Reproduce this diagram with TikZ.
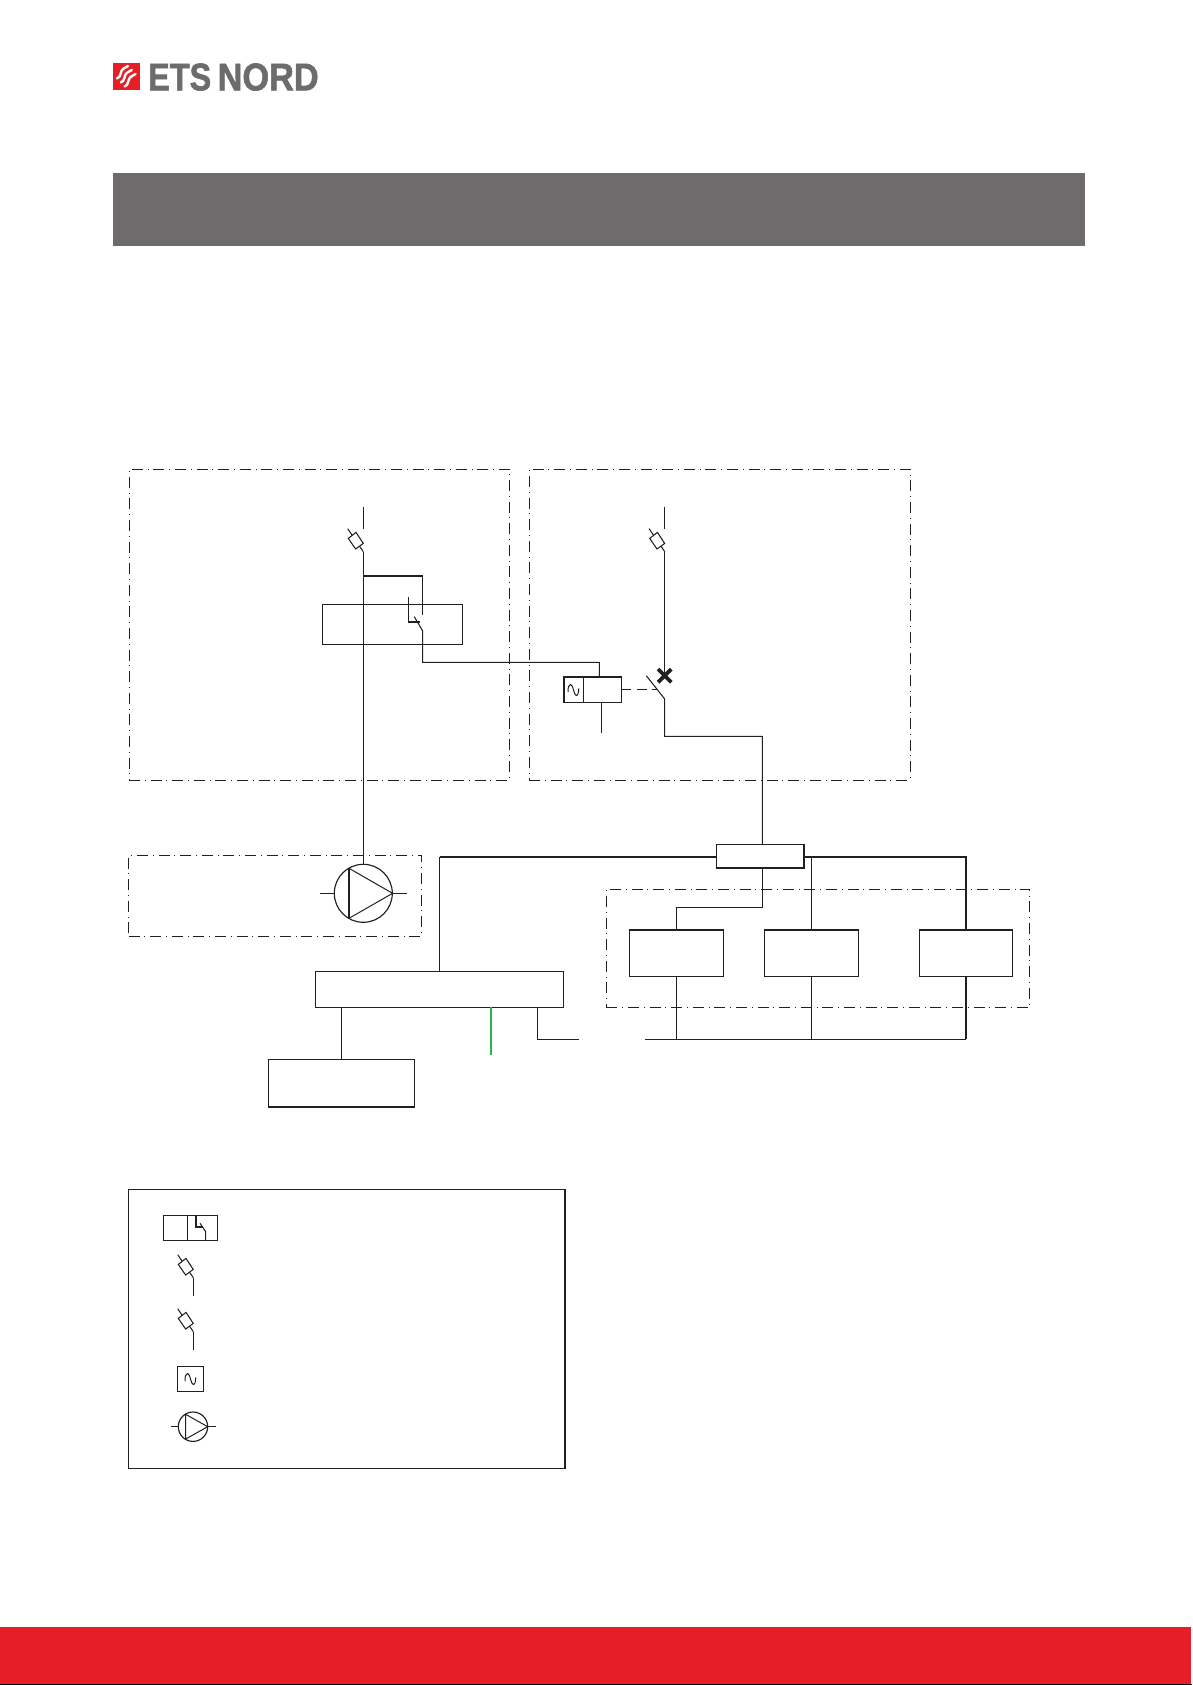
\documentclass[tikz,border=0pt]{standalone}
\usepackage{fontspec}
\setmainfont{Liberation Sans}
\newfontfamily\logofont[FakeBold=1.6]{Liberation Sans Bold}
\definecolor{etsred}{HTML}{E61E26}
\definecolor{etsgray}{HTML}{6D6B6C}
\definecolor{linek}{HTML}{231F20}
\definecolor{wgreen}{HTML}{2BB24C}
\tikzset{
  wire/.style={draw=linek,line width=1.05pt},
  bus/.style={draw=linek,line width=1.9pt},
  boxn/.style={draw=linek,line width=1.15pt,inner sep=0pt,outer sep=0pt},
  zone/.style={draw=linek,line width=1pt,inner sep=0pt,outer sep=0pt,dash pattern=on 11pt off 4.8pt on 1pt off 4.8pt},
  fusesym/.pic={
    \draw[wire] (-15.6,-23) -- (0,0);
    \draw[wire,fill=white] (-15,-13.3) -- (-7.3,-19.3) -- (0,-8.3) -- (-7.7,-2.7) -- cycle;
  },
  sinesym/.pic={
    \draw[draw=linek,line width=1pt] (-5.3,2) .. controls (-5.6,-3) and (-4,-5.5) .. (-2.7,-5.5)
      .. controls (0,-5.5) and (0.5,5.5) .. (3,5.5) .. controls (4.6,5.5) and (5.5,2) .. (5.5,-1.7);
  },
  pumpsym/.pic={
    \draw[draw=linek,line width=1pt,line join=round] (-14.3,-25) -- (-14.3,25) -- (29.3,0) -- cycle;
    \draw[draw=linek,line width=1.6pt] (-14.3,-25) -- (-14.3,25);
  },
  logowave/.pic={
    \draw[white,line width=2.4pt,line cap=round] (0,0) .. controls (4.5,-1.5) and (3,-7.5) .. (6,-9.5)
      .. controls (7.5,-10.5) and (9,-11.5) .. (11,-12.5);
  }
}
\begin{document}
\begin{tikzpicture}[x=1pt,y=-1pt]
\useasboundingbox (0,0) rectangle (1192,1685);
% page furniture
\fill[etsgray] (113,173) rectangle (1084.7,246);
\fill[etsred] (0,1627) rectangle (1190.5,1684);
\fill[black] (0,1684) rectangle (1192,1685);
% logo
\fill[etsred] (113,63) rectangle (140.3,90);
\pic at (117,78.5) {logowave};
\pic at (120.8,82.5) {logowave};
\pic at (124.6,86.5) {logowave};
\node[anchor=base west,inner sep=0pt,text=etsgray,font=\logofont\fontsize{37.7pt}{38pt}\selectfont] (logoa) at (148,90.3) {\scalebox{0.86}[1.02]{ETS}};
\node[anchor=base west,inner sep=0pt,text=etsgray,font=\logofont\fontsize{37.7pt}{38pt}\selectfont] (logob) at (217.5,90.3) {\scalebox{0.91}[1.02]{NORD}};
% zones
\node[zone,minimum width=380.6pt,minimum height=311pt] (zoneL) at (319.3,624.5) {};
\node[zone,minimum width=381pt,minimum height=311pt] (zoneR) at (719.5,624.5) {};
\node[zone,minimum width=293.2pt,minimum height=81pt] (zoneP) at (275.1,895.8) {};
\node[zone,minimum width=423.4pt,minimum height=118.3pt] (zoneU) at (818,948.15) {};
% boxes
\node[boxn,minimum width=140pt,minimum height=40pt] (relay) at (392.3,624.3) {};
\node[boxn,minimum width=57.3pt,minimum height=25.3pt] (coil) at (592.65,689.65) {};
\node[boxn,minimum width=87.7pt,minimum height=23.7pt] (tbox) at (760.15,856.15) {};
\node[boxn,minimum width=94.4pt,minimum height=46.3pt] (unitA) at (676.5,953.15) {};
\node[boxn,minimum width=94pt,minimum height=46.3pt] (unitB) at (811.3,953.15) {};
\node[boxn,minimum width=93.4pt,minimum height=46.3pt] (unitC) at (966,953.15) {};
\node[boxn,minimum width=247.6pt,minimum height=36pt] (ctrl) at (439.5,989.3) {};
\node[boxn,minimum width=146pt,minimum height=47.7pt] (lowbox) at (341.3,1083.15) {};
\node[boxn,circle,minimum size=58pt] (pump) at (363.3,893.3) {};
\pic at (pump.center) {pumpsym};
% coordinates
\coordinate (stubLa) at (363.3,506.7);
\coordinate (stubLb) at (363.3,528.7);
\coordinate (fuseL) at (363.3,551.7);
\coordinate (thickR) at (422.7,576);
\coordinate (thickL) at (363.3,576);
\coordinate (contactA) at (422.7,615);
\coordinate (contactB) at (408.3,597.3);
\coordinate (contactC) at (408.3,622);
\coordinate (contactD) at (420,622);
\coordinate (bladeA) at (414.3,616.7);
\coordinate (bladeB) at (422.7,631);
\coordinate (coilIn) at (599.3,677);
\coordinate (coilOut) at (601.3,702.3);
\coordinate (coilEnd) at (601.3,732.7);
\coordinate (coilMidT) at (583.3,677);
\coordinate (coilMidB) at (583.3,702.3);
\coordinate (stubRa) at (664.7,506.7);
\coordinate (stubRb) at (664.7,528.7);
\coordinate (fuseR) at (664.7,551.7);
\coordinate (cross) at (664.7,675.7);
\coordinate (bladeC) at (646.3,675.7);
\coordinate (bladeD) at (664.7,699);
\coordinate (tIn) at (762.3,844.3);
\coordinate (tOut) at (762.7,868);
\coordinate (dashEnd) at (657,689.3);
\coordinate (ret) at (645,1039.3);
\coordinate (branchTop) at (537.3,1007.3);
\coordinate (branchEnd) at (578.7,1039.3);
\coordinate (greenTop) at (490.7,1007.3);
\coordinate (greenEnd) at (490.7,1054.7);
% left panel
\draw[wire] (stubLa) -- (stubLb);
\pic at (fuseL) {fusesym};
\draw[wire] (fuseL) -- (pump.north);
\draw[bus] (thickL) -- (thickR);
\draw[wire] (thickR) -- (contactA);
\draw[wire] (contactB) -- (contactC) -- (contactD);
\draw[wire] (bladeA) -- (bladeB) |- (coilIn |- 0,662.3) -- (coilIn);
% right panel
\draw[wire] (stubRa) -- (stubRb);
\pic at (fuseR) {fusesym};
\draw[wire] (fuseR) -- (cross);
\draw[draw=linek,line width=3.8pt] ([shift={(-6.6,-6.6)}]cross) -- ([shift={(6.6,6.6)}]cross);
\draw[draw=linek,line width=3.8pt] ([shift={(-6.6,6.6)}]cross) -- ([shift={(6.6,-6.6)}]cross);
\draw[wire] (bladeC) -- (bladeD) |- (tIn |- 0,736.3) -- (tIn);
\draw[boxn] (coilMidT) -- (coilMidB);
\pic at (573.3,690) {sinesym};
\draw[wire] (coilOut) -- (coilEnd);
\draw[wire,dash pattern=on 10pt off 5.5pt] (coil.east |- dashEnd) -- (dashEnd);
% pump stubs
\draw[wire] (pump.west) -- ++(-14.6,0);
\draw[wire] (pump.east) -- ++(14.6,0);
% bus
\draw[bus] (tbox.west |- 0,856.7) -- (ctrl.north |- 0,856.7);
\draw[wire] (ctrl.north |- 0,856.7) -- (ctrl.north);
\draw[bus] (tbox.east |- 0,856.7) -| (unitC.north);
\draw[wire] (unitB.north) -- (unitB.north |- 0,856.7);
\draw[wire] (tOut) |- (unitA.north |- 0,907.3) -- (unitA.north);
% return line
\draw[wire] (ret) -- (unitC.south |- ret);
\draw[wire] (unitA.south) -- (unitA.south |- ret);
\draw[wire] (unitB.south) -- (unitB.south |- ret);
\draw[bus,line width=1.6pt] (unitC.south) -- (unitC.south |- ret);
% control box outputs
\draw[wire] (lowbox.north) -- (lowbox.north |- ctrl.south);
\draw[draw=wgreen,line width=1.9pt] (greenTop) -- (greenEnd);
\draw[wire] (branchTop) |- (branchEnd);
% legend
\node[boxn,minimum width=436.7pt,minimum height=279pt] (legend) at (346.65,1328.8) {};
\node[boxn,minimum width=54.4pt,minimum height=25pt] (legRelay) at (190.5,1227.8) {};
\coordinate (legDivT) at (187.7,1215.3);
\coordinate (legDivB) at (187.7,1240.3);
\draw[wire] (legDivT) -- (legDivB);
\coordinate (legCa) at (196,1215.3);
\coordinate (legCb) at (196,1227);
\coordinate (legCc) at (203.3,1227);
\coordinate (legBa) at (200,1223.3);
\coordinate (legBb) at (205.7,1231.7);
\coordinate (legBc) at (205.7,1240.3);
\draw[wire] (legCa) -- (legCb) -- (legCc);
\draw[wire] (legBa) -- (legBb) -- (legBc);
\coordinate (legFa) at (193.3,1277.7);
\coordinate (legFaEnd) at (193.3,1296);
\pic at (legFa) {fusesym};
\draw[wire] (legFa) -- (legFaEnd);
\coordinate (legFb) at (193.3,1331.7);
\coordinate (legFbEnd) at (193.3,1350);
\pic at (legFb) {fusesym};
\draw[wire] (legFb) -- (legFbEnd);
\node[boxn,line width=1.5pt,minimum width=26pt,minimum height=24.7pt] (legSine) at (190.3,1379) {};
\pic at (legSine.center) {sinesym};
\node[boxn,circle,minimum size=29.4pt] (legPump) at (193,1426.7) {};
\draw[draw=linek,line width=1pt,line join=round] (185.7,1414.3) -- (185.7,1439) -- (207.7,1426.7) -- cycle;
\draw[wire] (legPump.west) -- ++(-7.5,0);
\draw[wire] (legPump.east) -- ++(8,0);
\end{tikzpicture}
\end{document}
